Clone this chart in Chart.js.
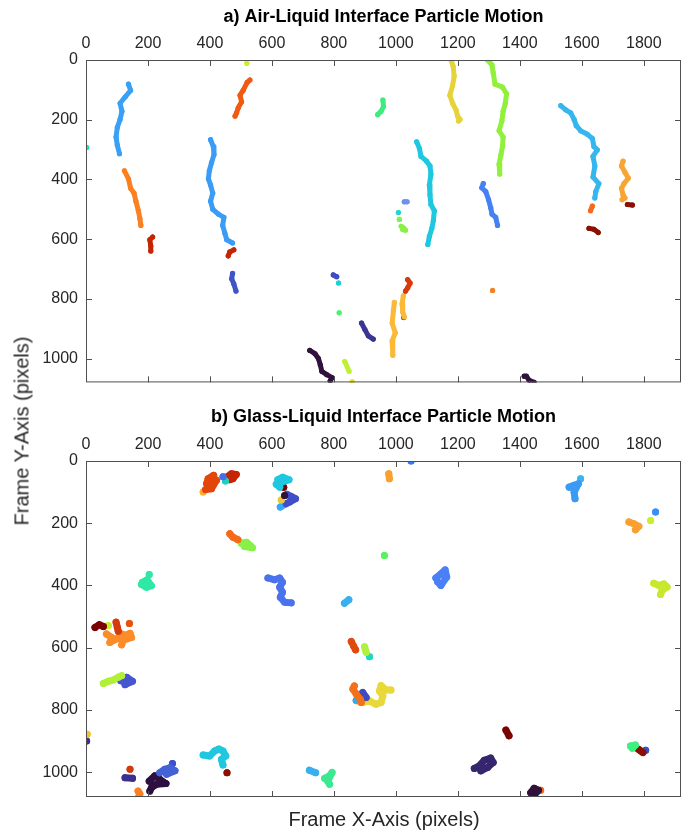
<!DOCTYPE html>
<html><head><meta charset="utf-8">
<script src="https://cdn.jsdelivr.net/npm/chart.js@4.4.1/dist/chart.umd.min.js"></script>
<style>
body{margin:0;background:#fff;}
#wrap{position:relative;width:686px;height:832px;overflow:hidden;font-family:"Liberation Sans",Arial,sans-serif;}
canvas{position:absolute;left:0;}
#ylab{position:absolute;left:22px;top:431px;transform:translate(-50%,-50%) rotate(-90deg);white-space:nowrap;font-size:20px;color:#262626;}
#xlab{position:absolute;left:384px;top:819px;transform:translate(-50%,-50%);white-space:nowrap;font-size:20px;color:#262626;}
</style></head>
<body>
<div id="wrap">
<canvas id="ca" width="686" height="400" style="top:0"></canvas>
<canvas id="cb" width="686" height="432" style="top:400px"></canvas>
<div id="ylab">Frame Y-Axis (pixels)</div>
<div id="xlab">Frame X-Axis (pixels)</div>
</div>
<script>
// ---------- data ----------
const xTicks = [0,200,400,600,800,1000,1200,1400,1600,1800];
const yTicks = [0,200,400,600,800,1000];
const titleA = 'a) Air-Liquid Interface Particle Motion';
const titleB = 'b) Glass-Liquid Interface Particle Motion';

const airColors = ['#3aa0f5','#fb8022','#c42503','#3a9cf5','#c42503','#3f55c8','#f05a12','#c8f02a','#1ee0b0','#3f4bc0','#1bd0d5','#4df070','#3b3595','#30123b','#c0f034','#e0e030','#e6d33a','#90f03c','#40ea80','#1fc8de','#4680f5','#36b6ee','#f9a533','#8a1004','#f56a1a','#8a1004','#6f90f0','#20d8c8','#80f050','#8af048','#d83a0c','#fbb938','#fbb938','#d43a0c','#f88020','#30123b'];
const airX = [
 [137,144,126,110,116,110,101,97,101,108],
 [124,137,144,155,161,169,174,177],
 [215,206,209,209],
 [402,411,413,405,398,395,402,409,402,409,427,445,441,448,454,473],
 [477,464,459],
 [473,470,477,484],
 [529,520,507,497,502,491,486,481],
 [519],[2],[798,809],[815],[817],
 [889,900,911,927],
 [722,739,750,756,761,777,794,788],
 [835,849],[859],
 [1178,1185,1188,1183,1174,1183,1194,1199,1207,1202],
 [1296,1310,1314,1320,1344,1357,1353,1346,1342,1333,1346,1344,1339,1333,1335],
 [958,960,952,941],
 [1067,1076,1081,1099,1110,1113,1108,1110,1113,1124,1121,1116,1108,1103],
 [1282,1277,1290,1299,1306,1310,1322,1328],
 [1532,1548,1564,1575,1582,1596,1618,1634,1639,1650,1636,1642,1636,1655,1645,1642],
 [1733,1728,1739,1750,1736,1728,1733,1739,1730],
 [1747,1763],[1634,1628],[1623,1639,1653],[1027,1036],[1008],[1011],
 [1017,1024,1031,1022],
 [1038,1046,1038,1031],
 [1024,1020,1022,1027],
 [995,992,988,998,988,990],
 [1025],[1312],[1414,1421,1430,1446]
];
const airY = [
 [81,102,124,145,172,199,226,258,285,314],
 [371,398,430,446,473,505,532,554],
 [593,602,623,640],
 [267,290,317,344,371,398,419,446,473,500,516,527,554,580,602,613],
 [636,643,656],
 [715,733,750,774],
 [67,75,102,118,140,161,177,188],
 [11],[293],[720,726],[747],[847],
 [881,903,924,935],
 [973,984,1000,1021,1043,1054,1064,1075],
 [1010,1043],[1078],
 [0,22,54,86,118,145,167,188,199,204],
 [0,16,43,81,91,113,145,172,204,237,258,290,317,349,382],
 [134,156,172,183],
 [274,296,323,339,355,382,419,452,484,505,538,564,591,618],
 [414,428,441,468,495,516,527,554],
 [153,167,177,199,220,237,249,263,290,301,323,355,392,414,441,462],
 [339,355,376,396,414,430,452,462,468],
 [484,486],[489,505],[564,567,578],[475,475],[511],[534],
 [557,562,570,568],
 [736,747,763,774],
 [790,817,844,860],
 [812,839,882,914,941,989],
 [863],[772],[1059,1059,1073,1080]
];

const glassColors = ['#e4460a','#f8b030','#4a6ee8','#20d0c0','#c42503','#1fc8de','#7a0403','#30123b','#e8c838','#3f4fc8','#36a8f5','#f56a1a','#88f048','#2ee8a5','#2ee8a5','#4a72ec','#36b0f0','#7a0403','#c8f02a','#d43a0c','#e85010','#fb8c28','#b0f038','#4656d0','#f8c030','#3b2f8f','#1fc8de','#8a1004','#4462d8','#3f4fc8','#2d1040','#3b2f8f','#d43a0c','#fb8020','#38b0f0','#3ce890','#e04a0c','#b0f040','#20d8c0','#f5701a','#3f4bc0','#36a8f0','#e8d83a','#3a78f0','#f8a030','#5cf060','#4a80f5','#3a9af5','#36b8ee','#3a8ef5','#c8f02a','#fba030','#c8e830','#7a0403','#35266e','#30123b','#f56a1a','#40f080','#8a1004','#d43a0c','#3a4fc0'];
const glassX = [
 [412,394,389,399,410,421,405,386],[378],[442],[450],[458,469,485,474,464],
 [619,635,655,627,614,625],[638],[641],[630],[648,662,676,657,646],[627,641],
 [464,474,490],[501,518,530,537,512],
 [182,197,211,195,179],[204],
 [587,609,625,634,625,634,627,641,662],
 [834,848],
 [29,43,56],[72],[97,101,104],[140],
 [66,83,77,99,115,126,142,147,120,115],
 [56,72,88,104,115],[112,131,150,126],
 [4],[2],
 [378,399,415,429,442,451,437,442],[455],
 [238,254,270,287,260],[279],
 [204,222,238,258,228,211,206],
 [126,150],[142],[168,174,170],
 [721,741],[770,786,794,780,786],
 [856,863,870],[899,904],[915],
 [866,861,872,885,888],[893,904],[872],
 [872,893,915,936,952,958,947,952,968,984],
 [1049],[977,979],[963],
 [1129,1145,1159,1164,1145,1135],
 [1559,1575,1589,1575,1578],[1596],
 [1838],[1822],[1752,1768,1784,1773],
 [1832,1849,1865,1875,1859,1854],
 [1355,1365],
 [1253,1269,1285,1306,1314,1296,1274],
 [1435,1446,1460,1441],[1467],
 [1757,1773,1763],[1768,1784,1797],[1790],[1806]
];
const glassY = [
 [46,57,73,84,73,62,89,92],[100],[51],[64],[49,41,43,57,60],
 [60,52,60,70,75,84],[84],[111],[125],[107,114,121,132,137],[148,140],
 [234,245,253],[264,261,272,279,275],
 [390,382,401,406,397],[365],
 [376,382,376,390,406,422,438,454,456],
 [457,446],
 [535,526,532],[529],[518,534,547],[522],
 [556,567,583,572,556,561,554,567,576,591],
 [715,708,704,695,690],[706,695,708,719],
 [878],[900],
 [945,948,932,926,932,948,959,977],[1002],
 [1002,991,986,996,1007],[972],
 [1029,1012,1023,1037,1039,1050,1061],
 [1018,1020],[991],[1061,1070,1080],
 [994,1002],[1020,1012,1001,1029,1039],
 [580,594,607],[597,615],[629],
 [723,733,749,766,776],[744,760],[769],
 [771,776,771,782,776,755,739,722,736,736],
 [0],[41,57],[304],
 [376,363,350,373,400,389],
 [84,78,73,100,121],[57],
 [164],[191],[196,202,210,221],
 [393,400,395,405,416,429],
 [865,883],
 [988,980,962,955,969,985,996],
 [1066,1052,1058,1080],[1058],
 [916,913,923],[919,927,937],[932],[930]
];

// ---------- chart ----------
const FONT = '"Liberation Sans", Arial, Helvetica, sans-serif';
const frame = {
  id:'frame',
  afterDraw(chart){
    const {ctx, chartArea:{left,right,top,bottom}, scales:{x,y}} = chart;
    ctx.save();
    ctx.strokeStyle = '#505050'; ctx.lineWidth = 1;
    ctx.strokeRect(left+0.5, top+0.5, right-left-1, bottom-top-1);
    ctx.beginPath();
    x.ticks.forEach(t => {
      if (t.value <= 0) return;
      const p = Math.round(x.getPixelForValue(t.value)) + 0.5;
      ctx.moveTo(p, top); ctx.lineTo(p, top+6);
      ctx.moveTo(p, bottom); ctx.lineTo(p, bottom-6);
    });
    y.ticks.forEach(t => {
      if (t.value <= 0) return;
      const p = Math.round(y.getPixelForValue(t.value)) + 0.5;
      ctx.moveTo(left, p); ctx.lineTo(left+6, p);
      ctx.moveTo(right, p); ctx.lineTo(right-6, p);
    });
    ctx.stroke();
    ctx.restore();
  }
};

function makeDatasets(xs, ys, colors, lw, pr){
  return xs.map((xa, i) => ({
    data: xa.map((v, j) => ({x: v, y: ys[i][j]})),
    showLine: true,
    borderColor: colors[i],
    backgroundColor: colors[i],
    pointBackgroundColor: colors[i],
    pointBorderWidth: 0,
    pointRadius: pr,
    borderWidth: lw,
    borderCapStyle: 'round',
    borderJoinStyle: 'round',
    tension: 0,
    clip: 0
  }));
}

function makeChart(id, xs, ys, colors, title, axisH, titlePadTop, padBottom, lw, pr){
  return new Chart(document.getElementById(id), {
    type: 'scatter',
    data: {datasets: makeDatasets(xs, ys, colors, lw, pr)},
    options: {
      responsive: false, animation: false,
      layout: {padding: {left: 0, right: 5, top: 0, bottom: padBottom}},
      plugins: {legend: {display: false}, tooltip: {enabled: false}},
      scales: {
        x: {
          type: 'linear', position: 'top', min: 0, max: 1920,
          afterBuildTicks(s){ s.ticks = xTicks.map(v => ({value: v})); },
          afterFit(s){ s.height = axisH; },
          grid: {display: false, drawTicks: false},
          border: {display: false},
          ticks: {padding: 7, color: '#262626', font: {family: FONT, size: 16}, maxRotation: 0, autoSkip: false, callback: v => String(v)},
          title: {display: true, text: title, color: '#000', font: {family: FONT, size: 18, weight: 'bold'}, padding: {top: titlePadTop, bottom: 0}}
        },
        y: {
          type: 'linear', reverse: true, min: 0, max: 1080,
          afterBuildTicks(s){ s.ticks = yTicks.map(v => ({value: v})); },
          afterFit(s){ s.width = 86; },
          grid: {display: false, drawTicks: false},
          border: {display: false},
          ticks: {padding: 8, color: '#262626', font: {family: FONT, size: 16}, autoSkip: false, callback: v => String(v)}
        }
      }
    },
    plugins: [frame]
  });
}

makeChart('ca', airX, airY, airColors, titleA, 60, 6, 4, 5, 2.6);
makeChart('cb', glassX, glassY, glassColors, titleB, 61, 6, 35, 7, 3.5);
</script>
</body></html>
